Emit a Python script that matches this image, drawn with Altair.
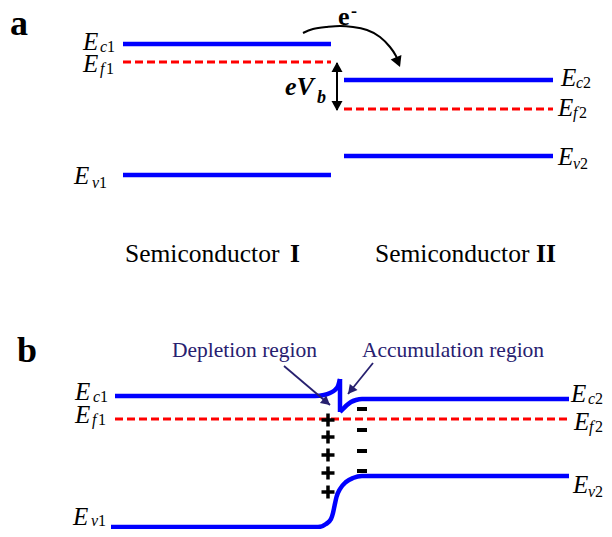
import altair as alt
import pandas as pd

# ---------------- data ----------------
# panel a: flat energy levels
a_levels = ["Ec1", "Ef1", "Ev1", "Ec2", "Ef2", "Ev2"]
a_x_start = [123, 123, 123, 344, 344, 344]
a_x_end = [331, 331, 331, 553, 553, 553]
a_level_y = [44, 62, 175, 80, 109, 156]
a_is_fermi = [False, True, False, False, True, False]

# panel b: bent bands after contact
b_cond_left_x = [115, 315, 324, 330, 335, 338, 340]
b_cond_left_y = [396, 396, 395, 393, 390, 386, 379]
b_cond_spike_x = [340, 340]
b_cond_spike_y = [379, 412]
b_cond_right_x = [340, 343, 347, 351, 356, 362, 569]
b_cond_right_y = [412, 409, 405, 402, 400, 399, 399]
b_val_x = [111, 318, 326, 331, 333, 334.5, 336.5, 340, 346, 353, 362, 569]
b_val_y = [527, 527, 524, 519, 513, 506, 497, 489, 482, 478, 476, 476]
b_fermi_x = [115, 569]
b_fermi_y = [419, 419]

# charges
plus_x = 328
plus_y = [420, 437, 455, 473, 492]
plus_half = 6.5
minus_x_start, minus_x_end = 357, 367
minus_y = [409, 430, 451, 471]

# electron transfer arc (panel a)
arc_x = [303, 313, 327, 340, 353, 367, 380, 390, 396, 399]
arc_y = [33, 29, 27, 26, 27, 30, 37, 47, 56, 64]

# eVb double arrow
vb_x = [337, 337]
vb_y = [63, 110]

# pointer arrows (panel b)
dep_x = [284, 330]
dep_y = [366, 405]
acc_x = [373, 348]
acc_y = [363, 394]

# arrow heads: tip x, tip y, direction (deg clockwise from up), colour, size
head_x = [400, 337, 337, 330, 348]
head_y = [67, 62, 111, 405, 394]
head_dir = [158, 0, 180, 130, 219]
head_col = ["black", "black", "black", "#27206f", "#27206f"]
head_size = [441, 400, 400, 324, 324]

# level labels  E_{letter digit}
lab_E_x = [83, 83, 74, 561, 558, 558, 75, 75, 73, 571, 574, 573]
lab_E_y = [50, 72, 184, 86, 116, 165, 400, 423, 525, 402, 430, 493]
lab_sub = ["c", "f", "v", "c", "f", "v", "c", "f", "v", "c", "f", "v"]
lab_dig = ["1", "1", "1", "2", "2", "2", "1", "1", "1", "2", "2", "2"]
lab_sub_x = [100, 100, 92, 576, 573, 573, 93, 92, 91, 588, 589, 588]
lab_sub_y = [52, 74, 188, 88, 118, 169, 402, 425, 526, 404, 432, 497]
sub_w = {"c": 7, "f": 6, "v": 7}

BLUE = "#0000ff"
RED = "#ff0000"
NAVY = "#27206f"
SERIF = "Liberation Serif"

XS = alt.Scale(domain=[8, 604], nice=False, zero=False)
YS = alt.Scale(domain=[8, 529], nice=False, zero=False, reverse=True)


def X(f):
    return alt.X(f, type="quantitative", scale=XS, axis=None)


def Y(f):
    return alt.Y(f, type="quantitative", scale=YS, axis=None)


def path_df(xs, ys, name):
    return pd.DataFrame({"x": xs, "y": ys, "i": list(range(len(xs))), "s": name})


def text_layer(df, **kw):
    base = dict(font=SERIF, align="left", baseline="alphabetic", color="black")
    base.update(kw)
    return alt.Chart(df).mark_text(**base).encode(x=X("x"), y=Y("y"), text="t:N")


layers = []

# ---- panel a levels
lv = pd.DataFrame({"name": a_levels, "x1": a_x_start, "x2": a_x_end,
                   "y": a_level_y, "fermi": a_is_fermi})
layers.append(alt.Chart(lv[~lv.fermi]).mark_rule(color=BLUE, strokeWidth=4.5).encode(
    x=X("x1"), x2="x2", y=Y("y")))
layers.append(alt.Chart(lv[lv.fermi]).mark_rule(color=RED, strokeWidth=3, strokeDash=[8, 4]).encode(
    x=X("x1"), x2="x2", y=Y("y")))

# ---- panel b bands
cl = path_df(b_cond_left_x, b_cond_left_y, "cl")
cr = path_df(b_cond_right_x, b_cond_right_y, "cr")
vv = path_df(b_val_x, b_val_y, "v")
curved = pd.concat([cl, cr, vv])
layers.append(alt.Chart(curved).mark_line(color=BLUE, strokeWidth=4.5, interpolate="monotone").encode(
    x=X("x"), y=Y("y"), detail="s:N", order="i:Q"))
sp = path_df(b_cond_spike_x, b_cond_spike_y, "sp")
layers.append(alt.Chart(sp).mark_line(color=BLUE, strokeWidth=4.5).encode(
    x=X("x"), y=Y("y"), order="i:Q"))
fe = path_df(b_fermi_x, b_fermi_y, "f")
layers.append(alt.Chart(fe).mark_line(color=RED, strokeWidth=3, strokeDash=[8, 4]).encode(
    x=X("x"), y=Y("y"), order="i:Q"))

# ---- charges
ph = pd.DataFrame({"x1": [plus_x - plus_half] * len(plus_y),
                   "x2": [plus_x + plus_half] * len(plus_y), "y": plus_y})
layers.append(alt.Chart(ph).mark_rule(color="black", strokeWidth=3.5).encode(
    x=X("x1"), x2="x2", y=Y("y")))
pv = pd.DataFrame({"x": [plus_x] * len(plus_y),
                   "y1": [y - plus_half for y in plus_y],
                   "y2": [y + plus_half for y in plus_y]})
layers.append(alt.Chart(pv).mark_rule(color="black", strokeWidth=3.5).encode(
    x=X("x"), y=Y("y1"), y2="y2"))
mi = pd.DataFrame({"x1": [minus_x_start] * len(minus_y), "x2": [minus_x_end] * len(minus_y), "y": minus_y})
layers.append(alt.Chart(mi).mark_rule(color="black", strokeWidth=4).encode(
    x=X("x1"), x2="x2", y=Y("y")))

# ---- arrows
layers.append(alt.Chart(path_df(arc_x, arc_y, "arc")).mark_line(
    color="black", strokeWidth=2, interpolate="natural").encode(x=X("x"), y=Y("y"), order="i:Q"))
layers.append(alt.Chart(path_df(vb_x, vb_y, "vb")).mark_line(
    color="black", strokeWidth=2).encode(x=X("x"), y=Y("y"), order="i:Q"))
layers.append(alt.Chart(path_df(dep_x, dep_y, "dep")).mark_line(
    color=NAVY, strokeWidth=1.8).encode(x=X("x"), y=Y("y"), order="i:Q"))
layers.append(alt.Chart(path_df(acc_x, acc_y, "acc")).mark_line(
    color=NAVY, strokeWidth=1.8).encode(x=X("x"), y=Y("y"), order="i:Q"))
hd = pd.DataFrame({"x": head_x, "y": head_y, "a": head_dir, "c": head_col, "z": head_size})
layers.append(alt.Chart(hd).mark_point(shape="M0,0 L-0.55,1 L0.55,1 Z", filled=True,
                                       opacity=1, strokeWidth=0).encode(
    x=X("x"), y=Y("y"),
    angle=alt.Angle("a:Q", scale=None),
    color=alt.Color("c:N", scale=None),
    size=alt.Size("z:Q", scale=None)))

# ---- level labels
ed = pd.DataFrame({"x": lab_E_x, "y": lab_E_y, "t": ["E"] * len(lab_E_x)})
layers.append(text_layer(ed, fontStyle="italic", fontSize=25))
sd = pd.DataFrame({"x": lab_sub_x, "y": lab_sub_y, "t": lab_sub})
layers.append(text_layer(sd, fontStyle="italic", fontSize=16))
dd = pd.DataFrame({"x": [x + sub_w[s] for x, s in zip(lab_sub_x, lab_sub)],
                   "y": lab_sub_y, "t": lab_dig})
layers.append(text_layer(dd, fontSize=16))

# ---- other text
panel_lbl = pd.DataFrame({"x": [10, 17], "y": [35, 362], "t": ["a", "b"]})
layers.append(text_layer(panel_lbl, fontWeight="bold", fontSize=36))

semi = pd.DataFrame({"x": [125, 375], "y": [262, 262], "t": ["Semiconductor", "Semiconductor"]})
layers.append(text_layer(semi, fontSize=25.5))
roman = pd.DataFrame({"x": [290, 536], "y": [262, 262], "t": ["I", "II"]})
layers.append(text_layer(roman, fontSize=25.5, fontWeight="bold"))

regions = pd.DataFrame({"x": [172, 362], "y": [357, 357], "t": ["Depletion region", "Accumulation region"]})
layers.append(text_layer(regions, fontSize=21.5, color=NAVY))

# e- and eVb
layers.append(text_layer(pd.DataFrame({"x": [338], "y": [25], "t": ["e"]}),
                         fontSize=26, fontWeight="bold"))
layers.append(text_layer(pd.DataFrame({"x": [351], "y": [17], "t": ["-"]}),
                         fontSize=18, fontWeight="bold"))
layers.append(text_layer(pd.DataFrame({"x": [285], "y": [95], "t": ["eV"]}),
                         fontSize=26, fontWeight="bold", fontStyle="italic"))
layers.append(text_layer(pd.DataFrame({"x": [317], "y": [103], "t": ["b"]}),
                         fontSize=18, fontWeight="bold", fontStyle="italic"))

chart = alt.layer(*layers).properties(
    width=596, height=521, padding=0,
    autosize=alt.AutoSizeParams(type="none"),
    background="white",
).configure_view(strokeWidth=0)

chart.save("out.html", embed_options={"renderer": "svg", "actions": False})
